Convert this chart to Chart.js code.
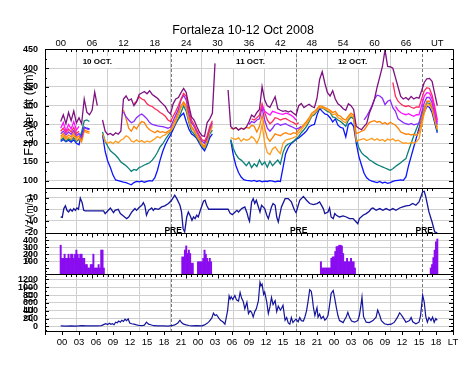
<!DOCTYPE html>
<html>
<head>
<meta charset="utf-8">
<script src="https://cdn.jsdelivr.net/npm/chart.js@4.4.1/dist/chart.umd.min.js"></script>
<style>
  html, body { margin: 0; padding: 0; background: #fff; }
  #wrap { position: relative; width: 470px; height: 369px; }
</style>
</head>
<body>
<div id="wrap"><canvas id="chart" width="470" height="369"></canvas></div>
<script>
// F-layer iso-frequency heights (km), one value every half hour, 00 -> 72 UT
const STEP_H = 0.5;
const purple = [
  258,276,252,282,260,286,254,268,252,318,283,276,
  288,336,300,null,262,232,223,226,221,228,224,232,
  318,326,314,318,300,310,330,334,338,332,340,330,
  325,320,312,305,298,285,278,305,318,322,335,346,
  335,300,270,262,245,230,220,218,255,265,280,413,
  null,null,null,null,342,245,238,242,235,240,237,243,
  257,275,270,282,290,351,315,300,296,310,324,292,
  288,285,287,283,286,280,275,300,306,295,300,304,
  298,295,320,370,391,360,335,326,340,318,305,300,
  292,288,305,300,290,245,240,236,245,253,280,297,
  318,350,377,404,449,405,404,400,375,350,325,318,
  322,316,325,318,322,320,340,362,372,373,365,332,
  300];
const magenta = [
  240,255,232,250,238,258,235,245,null,null,null,null,
  null,null,null,null,null,null,null,null,null,null,null,null,
  null,null,null,null,null,null,null,null,null,null,null,null,
  null,null,null,null,null,null,null,null,null,null,null,null,
  null,null,null,null,null,null,null,null,null,null,null,null,
  null,null,null,null,null,null,null,null,null,null,null,null,
  null,null,null,null,null,300,285,280,275,285,283,280,
  278,277,280,278,275,270,262,null,null,null,null,null,
  null,null,null,null,null,null,null,null,null,null,null,null,
  null,null,null,null,null,null,null,null,null,null,null,null,
  null,null,null,null,null,null,null,null,298,288,282,278,
  276,279,275,272,276,276,300,325,335,334,318,290,
  256];
const red = [
  232,240,228,238,230,242,226,232,null,null,null,null,
  null,null,null,null,null,null,null,null,null,null,null,null,
  null,null,null,null,305,312,324,318,315,305,300,298,
  292,288,282,278,272,262,258,272,285,300,318,333,
  325,290,262,250,235,222,210,205,220,245,260,null,
  null,null,null,null,null,null,null,null,null,null,null,null,
  null,265,262,268,275,305,282,262,252,258,268,266,
  262,265,266,262,258,255,250,255,null,null,null,null,
  null,null,null,null,null,null,null,null,null,null,null,null,
  null,null,null,null,null,null,null,null,null,null,null,null,
  null,null,null,null,null,null,null,362,325,312,305,300,
  298,300,296,293,297,296,318,340,348,346,328,298,
  262];
const violet = [
  225,232,222,230,224,234,220,226,215,242,238,236,
  null,null,null,null,null,null,null,null,null,null,null,null,
  284,270,262,255,258,268,274,278,272,265,255,250,
  248,246,245,244,242,240,243,260,275,290,315,328,
  315,280,255,245,230,218,205,200,215,240,255,null,
  null,null,null,null,null,null,null,null,null,null,null,null,
  250,258,255,262,265,295,262,240,232,240,250,252,
  248,250,252,248,245,242,238,240,245,null,null,null,
  null,null,null,null,null,null,null,null,null,null,null,null,
  null,null,null,null,null,null,null,null,262,272,285,300,
  318,328,326,320,303,312,315,295,285,265,260,255,
  252,250,253,249,251,252,282,308,322,322,308,282,
  250];
const orange1 = [
  218,226,215,222,217,228,214,220,208,236,232,230,
  null,null,null,null,null,null,null,null,null,null,null,null,
  289,265,240,232,245,238,250,258,255,243,236,232,
  228,233,229,231,228,232,236,252,265,282,300,310,
  300,270,245,235,222,212,198,192,210,235,250,null,
  null,null,null,null,null,240,238,242,236,240,238,242,
  240,248,245,230,245,275,240,215,205,215,225,222,
  220,225,228,225,224,228,226,236,242,250,258,268,
  280,285,292,300,298,295,292,288,282,285,275,272,
  265,262,272,280,275,226,228,232,235,245,255,258,
  260,256,258,252,255,250,256,252,248,240,230,227,
  224,225,222,224,221,228,262,292,312,312,298,270,
  242];
const orange2 = [
  212,220,210,216,211,222,208,214,203,232,228,226,
  null,null,null,null,225,205,200,204,199,206,201,208,
  212,220,216,206,203,209,204,207,202,206,203,207,
  212,218,214,220,222,228,232,242,258,275,295,306,
  295,260,240,232,218,208,195,188,205,230,245,null,
  null,null,null,null,null,215,212,210,215,205,212,208,
  210,218,212,200,215,250,200,175,170,185,190,180,
  172,200,208,210,212,215,218,228,236,245,252,262,
  275,280,288,296,295,292,288,284,276,278,268,265,
  258,255,266,274,270,205,208,210,212,207,210,213,
  208,212,207,210,205,211,208,212,206,208,204,200,
  201,199,202,200,204,212,245,280,302,303,290,262,
  236];
const teal = [
  208,214,206,212,207,215,205,210,230,260,262,258,
  null,null,null,null,230,205,192,180,174,168,160,150,
  145,140,133,125,130,128,135,138,142,145,148,155,
  164,176,190,198,210,220,230,242,255,265,282,300,
  285,255,232,225,215,205,192,185,200,225,235,null,
  null,null,null,null,null,210,186,170,160,155,148,140,
  150,135,145,138,155,142,150,136,152,140,148,155,
  145,175,192,198,200,205,212,218,228,236,245,258,
  272,276,285,295,294,290,285,282,270,268,262,258,
  252,245,262,270,265,212,188,175,168,163,156,152,
  147,143,140,137,134,131,128,132,138,143,148,154,
  159,180,200,220,238,255,275,293,308,306,292,262,
  232];
const blue = [
  205,210,204,208,203,209,200,196,225,243,240,238,
  null,null,null,null,222,178,152,135,115,102,100,98,
  96,95,92,89,95,98,97,99,96,98,100,99,
  108,128,155,178,196,210,222,237,252,265,274,280,
  258,238,225,220,213,200,188,180,195,215,225,null,
  null,null,null,null,null,208,168,140,122,110,103,101,
  100,99,101,98,100,97,99,98,100,99,97,99,
  98,135,172,188,198,204,210,214,220,226,233,244,
  248,250,275,293,285,278,276,268,257,265,248,242,
  240,217,250,255,245,200,165,142,120,108,102,99,
  97,95,98,94,96,93,95,98,100,101,102,101,
  110,140,165,190,215,240,262,283,298,296,282,255,
  228];

// vertical drift Vz (m/s)
const vzTimes = [
  0,0.3,0.6,0.9,1.2,1.5,1.85,2.2,2.5,2.8,3.1,3.4,3.75,4.1,4.4,4.7,
  8.2,8.5,8.8,9.5,9.8,10.1,10.4,11,11.4,12,12.6,13,13.6,14.2,14.5,14.9,
  15.5,15.8,16.1,16.4,16.8,17.4,17.7,18,18.7,19.3,19.9,20.6,21.2,21.8,22.2,22.8,
  23.1,23.4,23.7,24.1,24.4,24.8,25.1,25.4,25.7,26,26.3,26.7,27.3,27.6,27.9,28.3,
  32,32.4,32.8,33.3,33.7,34,34.6,35.2,35.6,35.9,36.1,36.5,36.8,37.1,37.4,37.8,
  38.1,38.4,39,39.4,39.7,40.3,40.6,41,41.3,41.6,42.2,42.9,43.5,44.1,44.7,45,
  45.7,46.4,47,47.6,48.3,49,49.5,50.2,50.5,51.1,51.4,51.7,52.1,52.4,52.7,53.3,
  54,54.6,55.2,55.9,56.5,56.8,57.1,57.8,58.4,59,59.4,59.7,60.3,61,61.6,62.2,
  62.9,63.5,64.1,64.8,65.4,66,66.7,67.3,67.9,68.5,69.2,69.5,69.8,70.4,71,71.5,
  72];
const vzValues = [
  -6.6,-7,0.6,2.9,-0.9,-2.3,0,-1.7,0.6,-0.9,1.1,0,9.5,5.7,-0.9,-1.4,
  -1.4,-3.7,-2.3,1.1,-0.9,-2.9,-0.9,0,-3.7,-5.7,-8,-6.6,-2.3,0.6,-0.9,1.1,
  3.4,5.7,2.9,-5.1,-0.9,1.1,-0.9,0.6,0,2,2.9,4.9,7.7,12,9.1,3.4,
  -2.3,-16.6,-19.4,-6.6,-2.3,-6,-9.4,-6.6,-8,-5.1,-6.6,-0.9,6.9,7.7,3.4,0,
  0,-3.5,-4.6,-2.5,-0.9,-2.3,0.6,2,-2.9,-8,-10.3,6.3,9.1,4.9,7.7,2,
  -2.3,3.4,0.6,-5.1,-8,2,4.9,3.4,-6.6,-10.9,2,9.1,9.1,6.3,-0.9,-2.9,
  7.7,11,7.7,4.9,4,4.9,6.3,0.6,-3.7,-2.3,1.1,-6.6,-8,-3.7,-5.1,-6.6,
  -5.7,-6.6,-8,-8,-10.9,-12.3,-8,-5.1,-3.7,-1.7,0.6,1.1,-0.9,0.6,-0.9,0.6,
  -0.9,0.6,-0.9,1.1,2,2.9,3.4,4.9,3.4,6.3,14.9,15.4,10.6,-2.3,-10.9,-19.4,
  -20.1];

// RSF occurrence, 15-min bins, grouped in bursts
const RSF_STEP = 0.25;
const rsfStarts = [0, 23.25, 26.25, 49.75, 70.75];
const rsfBursts = [
  [330,140,140,200,140,140,200,140,200,200,140,200,260,200,140,200,200,140,140,50,50,0,0,50,50,200,0,0,0,50,0,260,260,0],
  [160,160,260,320,210,260,210,70,70],
  [90,90,90,90,140,260,200,140,90,140,90],
  [90,0,0,0,0,0,0,0,140,160,160,240,310,310,330,330,320,210,90,90,140,90,90,140,90,90,0],
  [0,50,150,260,380,420]
];

// AE index (nT)
const aeTimes = [
  0,1,2,3,4,5,6,7,7.8,8.3,8.6,9,
  9.3,9.6,9.9,10.2,10.5,10.8,11.1,11.4,11.7,12,12.3,12.6,
  12.9,13.2,13.6,14,14.5,15,15.5,16,16.4,16.8,17.2,17.8,
  18.5,19.5,20.5,21.2,21.8,22.4,22.8,23.1,23.5,24,24.5,25,
  26,27,27.5,28,28.4,28.9,29.2,29.5,29.8,30.2,30.6,31,
  31.4,31.7,31.9,32.2,32.4,32.6,32.9,33.3,33.6,34,34.3,34.6,
  34.9,35.2,35.6,35.9,36.2,36.5,36.8,37.1,37.4,37.8,38.1,38.3,
  38.5,38.8,39,39.4,39.7,40,40.3,40.6,41,41.3,41.6,42,
  42.2,42.5,42.9,43.2,43.5,43.8,44.1,44.4,44.7,45,45.4,45.7,
  46,46.4,46.7,47,47.3,47.6,47.9,48.1,48.3,48.6,49,49.2,
  49.5,49.8,50.2,50.5,50.8,51.1,51.4,51.7,52.1,52.4,52.7,53,
  53.3,53.6,54,54.3,54.6,54.9,55.2,55.6,56.2,56.8,57.1,57.4,
  57.6,57.9,58.4,59,59.7,60.3,60.6,61,61.3,61.9,62.5,63.2,
  63.8,64.4,64.8,65.1,65.4,66,66.7,67,67.3,67.9,68.5,68.8,
  69.2,69.5,69.8,70.1,70.4,70.8,71.1,71.4,71.7,72];
const aeValues = [
  15,12,18,12,20,15,18,15,22,55,70,50,
  85,55,70,45,110,95,140,110,160,130,185,150,
  195,90,70,60,40,25,20,35,110,60,45,20,
  15,18,12,20,40,90,160,100,60,40,25,15,
  20,15,40,80,130,220,340,280,300,220,150,120,
  60,260,400,780,700,760,690,790,680,650,870,720,
  640,450,620,330,400,360,240,380,450,660,1130,1040,
  1080,820,880,620,330,500,740,560,660,380,520,420,
  460,540,160,230,90,60,230,100,150,190,120,230,
  150,140,250,400,650,940,900,730,500,280,480,240,
  320,200,260,160,200,280,540,840,920,710,480,280,
  150,130,100,180,250,360,240,140,110,150,280,540,
  750,250,110,100,150,240,420,280,150,70,50,60,
  110,240,350,300,240,110,150,230,120,70,110,280,
  800,620,250,110,230,150,240,110,200,160];

// axis ticks and annotations
const fTicks = [100,150,200,250,300,350,400,450];
const vzTicks = [-20,-10,0,10];
const rsfTicks = [100,200,300,400];
const aeTicks = [0,200,400,600,800,1000,1200];
const preTimes = [21, 45, 69];
const octLabels = ['10 OCT.', '11 OCT.', '12 OCT.'];
const octTimes = [7, 36.3, 55.8];
const OCT_KM = 416;

const FONT = '"Liberation Sans", Arial, Helvetica, sans-serif';
const GRID = '#cfcfcf';
const RSF_MIN = -87;

const pad2 = n => String(n).padStart(2, '0');
const hours = purple.map((_, i) => i * STEP_H);
const toPts = arr => arr.map((v, i) => ({x: hours[i], y: v}));

const fSeries = [
  {data: purple, color: '#7e1280'},
  {data: magenta, color: '#ff10ff'},
  {data: red, color: '#ff2a5a'},
  {data: violet, color: '#8a2cff'},
  {data: orange1, color: '#ff7f00'},
  {data: orange2, color: '#ff9a1a'},
  {data: teal, color: '#0a8078'},
  {data: blue, color: '#0a14ff'}
];

const rsfPts = [];
rsfBursts.forEach((burst, b) => {
  burst.forEach((v, i) => rsfPts.push({x: rsfStarts[b] + i * RSF_STEP, y: v}));
});

const datasets = fSeries.map(s => ({
  type: 'line', data: toPts(s.data), xAxisID: 'x', yAxisID: 'yF',
  borderColor: s.color, borderWidth: 1.3, pointRadius: 0, spanGaps: false
}));
datasets.push({
  type: 'line', data: vzTimes.map((t, i) => ({x: t, y: vzValues[i]})),
  xAxisID: 'x', yAxisID: 'yV', borderColor: '#14149c', borderWidth: 1.3, pointRadius: 0
});
datasets.push({
  type: 'bar', data: rsfPts, xAxisID: 'x', yAxisID: 'yR', base: RSF_MIN,
  backgroundColor: '#8a0cf0', borderWidth: 0, barPercentage: 1, categoryPercentage: 1
});
datasets.push({
  type: 'line', data: aeTimes.map((t, i) => ({x: t, y: aeValues[i]})),
  xAxisID: 'x', yAxisID: 'yA', borderColor: '#14149c', borderWidth: 1.2, pointRadius: 0
});

// panel layout: tick steps and axis titles
const panels = [
  {id: 'yF', major: 50, minor: 25, title: 'F-Layer ht (km)', size: 12.5, dy: -5.5},
  {id: 'yV', major: 10, minor: 5, title: 'Vz (m/s)', size: 10, dy: 2.5},
  {id: 'yR', major: 100, minor: 50, title: 'RSF', size: 9, dy: 0.5},
  {id: 'yA', major: 200, minor: 100, title: 'AE (nT)', size: 12, dy: -1.5}
];

function yScale(weight, min, max, ticks) {
  return {
    type: 'linear', position: 'left', stack: 'panels', stackWeight: weight,
    min: min, max: max,
    afterFit: s => { s.width = 60; },
    afterBuildTicks: s => { s.ticks = ticks.map(v => ({value: v})); },
    // labels are painted by the frames plugin (the stacked box is offset from the plot)
    ticks: {display: false, autoSkip: false},
    grid: {drawTicks: false, color: c => (c.tick && (c.tick.value === max || c.tick.value <= min + 1)) ? 'rgba(0,0,0,0)' : GRID},
    border: {display: false}
  };
}

const framePlugin = {
  id: 'frames',
  beforeDatasetsDraw(chart) {
    const {ctx, chartArea: a, scales} = chart;
    ctx.save();
    ctx.strokeStyle = '#7a7a7a';
    ctx.lineWidth = 1;
    ctx.setLineDash([3, 2]);
    preTimes.forEach(t => {
      const px = Math.round(scales.x.getPixelForValue(t)) + 0.5;
      ctx.beginPath(); ctx.moveTo(px, a.top); ctx.lineTo(px, a.bottom); ctx.stroke();
    });
    ctx.setLineDash([]);
    // day labels on white boxes
    ctx.font = 'bold 8px ' + FONT;
    ctx.textAlign = 'center';
    ctx.textBaseline = 'middle';
    octLabels.forEach((txt, i) => {
      const cx = scales.x.getPixelForValue(octTimes[i]);
      const cy = scales.yF.getPixelForValue(OCT_KM);
      const w = ctx.measureText(txt).width;
      ctx.fillStyle = '#fff';
      ctx.fillRect(cx - w / 2 - 4, cy - 6, w + 8, 12);
      ctx.fillStyle = '#000';
      ctx.fillText(txt, cx, cy);
    });
    ctx.restore();
  },
  afterDatasetsDraw(chart) {
    const {ctx, chartArea: a, scales} = chart;
    const x = scales.x;
    ctx.save();
    ctx.strokeStyle = '#000';
    ctx.lineWidth = 1;
    ctx.beginPath();
    panels.forEach(p => {
      const s = scales[p.id];
      const top = Math.round(s.top) + 0.5;
      ctx.rect(Math.round(a.left) + 0.5, top, Math.round(a.right - a.left), Math.round(s.bottom) - Math.round(s.top));
      for (let h = 1; h < 72; h++) {
        const px = Math.round(x.getPixelForValue(h)) + 0.5;
        const len = h % 6 === 0 ? 4 : 2.5;
        ctx.moveTo(px, top); ctx.lineTo(px, top + len);
      }
      for (let v = Math.ceil(s.min / p.minor) * p.minor; v < s.max; v += p.minor) {
        const py = Math.round(s.getPixelForValue(v)) + 0.5;
        const len = Math.abs(v % p.major) < 1e-6 ? 4 : 2;
        ctx.moveTo(a.left, py); ctx.lineTo(a.left + len, py);
        ctx.moveTo(a.right, py); ctx.lineTo(a.right - len, py);
      }
    });
    ctx.stroke();
    // PRE markers
    ctx.fillStyle = '#000';
    ctx.font = 'bold 8.5px ' + FONT;
    ctx.textAlign = 'center';
    ctx.textBaseline = 'alphabetic';
    preTimes.forEach(t => {
      ctx.fillText('PRE', x.getPixelForValue(t + 0.5), scales.yV.bottom - 0.5);
    });
    ctx.restore();
  },
  afterDraw(chart) {
    const {ctx, chartArea: a, scales} = chart;
    ctx.save();
    ctx.fillStyle = '#000';
    // y tick labels, placed with each panel's own scale
    ctx.font = 'bold 9px ' + FONT;
    ctx.textAlign = 'right';
    ctx.textBaseline = 'middle';
    panels.forEach(p => {
      const s = scales[p.id];
      s.ticks.forEach(t => {
        ctx.fillText(String(t.value), a.left - 7, s.getPixelForValue(t.value));
      });
    });
    ctx.textAlign = 'center';
    ctx.font = '12.5px ' + FONT;
    ctx.textBaseline = 'alphabetic';
    ctx.fillText('Fortaleza 10-12 Oct 2008', 243, 34);
    ctx.textBaseline = 'middle';
    panels.forEach(p => {
      const s = scales[p.id];
      ctx.save();
      ctx.translate(30, (s.top + s.bottom) / 2 + p.dy);
      ctx.rotate(-Math.PI / 2);
      ctx.font = p.size + 'px ' + FONT;
      ctx.fillText(p.title, 0, 0);
      ctx.restore();
    });
    ctx.restore();
  }
};

new Chart(document.getElementById('chart'), {
  type: 'line',
  data: {datasets: datasets},
  plugins: [framePlugin],
  options: {
    responsive: false,
    animation: false,
    devicePixelRatio: 1,
    // stacked left axes leave a 15px inset on each side; compensate here
    layout: {padding: {left: -15, right: 17, top: 0, bottom: 0}},
    plugins: {legend: {display: false}, tooltip: {enabled: false}, title: {display: false}},
    elements: {line: {tension: 0}},
    scales: {
      x: {
        type: 'linear', position: 'top', min: 0, max: 72,
        afterFit: s => { s.height = 49; },
        ticks: {stepSize: 6, autoSkip: false, maxRotation: 0, padding: 0, color: '#000',
                font: {family: FONT, size: 9.5}, callback: v => v === 72 ? 'UT' : pad2(v)},
        grid: {drawTicks: false, color: c => (c.tick && (c.tick.value === 0 || c.tick.value === 72)) ? 'rgba(0,0,0,0)' : GRID},
        border: {display: false}
      },
      x2: {
        type: 'linear', position: 'bottom', min: 0, max: 72,
        afterFit: s => { s.height = 38; },
        ticks: {stepSize: 3, autoSkip: false, maxRotation: 0, padding: 2, color: '#000',
                font: {family: FONT, size: 9.5},
                callback: v => v === 0 ? '' : (v === 72 ? 'LT' : pad2((v - 3 + 24) % 24))},
        grid: {drawOnChartArea: false, drawTicks: true, tickLength: 4, tickColor: '#000'},
        border: {display: false}
      },
      yA: yScale(57, -115, 1340, aeTicks),
      yR: yScale(41, RSF_MIN, 507, rsfTicks),
      yV: yScale(45, -20.3, 18.2, vzTicks),
      yF: yScale(139, 80.6, 451.3, fTicks)
    }
  }
});
</script>
</body>
</html>
